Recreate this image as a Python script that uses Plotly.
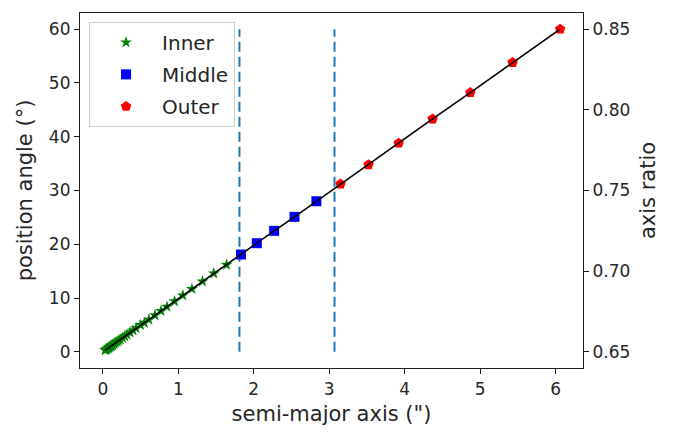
import plotly.graph_objects as go

# semi-major axis (") and position angle (deg) per region
inner_sma = [0.03, 0.04, 0.05, 0.06, 0.07, 0.08, 0.09, 0.10, 0.11, 0.12, 0.13, 0.15,
             0.17, 0.19, 0.21, 0.23, 0.26, 0.29, 0.32, 0.36, 0.40, 0.44, 0.50,
             0.55, 0.61, 0.69, 0.77, 0.85, 0.95, 1.06, 1.18, 1.32, 1.47, 1.64]
inner_pa = [0.3, 0.4, 0.5, 0.6, 0.7, 0.8, 0.9, 1.0, 1.1, 1.2, 1.3, 1.5,
            1.7, 1.9, 2.1, 2.3, 2.6, 2.9, 3.2, 3.6, 4.0, 4.4, 5.0,
            5.4, 6.0, 6.8, 7.6, 8.4, 9.4, 10.5, 11.7, 13.1, 14.6, 16.2]
middle_sma = [1.83, 2.04, 2.27, 2.54, 2.83]
middle_pa = [18.1, 20.2, 22.5, 25.1, 28.0]
outer_sma = [3.15, 3.52, 3.92, 4.37, 4.87, 5.43, 6.06]
outer_pa = [31.2, 34.8, 38.8, 43.3, 48.2, 53.8, 60.0]

boundaries = [1.81, 3.07]
boundary_pa = [0, 60]

y2_ticks = [0.65, 0.70, 0.75, 0.80, 0.85]

font = "DejaVu Sans"
ink = "#262626"

fig = go.Figure()

for b in boundaries:
    fig.add_trace(go.Scatter(x=[b, b], y=boundary_pa, mode="lines",
                             line=dict(color="#1f77b4", width=2, dash="10px,5px"),
                             showlegend=False, hoverinfo="skip"))

all_sma = inner_sma + middle_sma + outer_sma
all_pa = inner_pa + middle_pa + outer_pa

fig.add_trace(go.Scatter(x=inner_sma, y=inner_pa, mode="markers", name="Inner",
                         legendgroup="a",
                         marker=dict(symbol="star", size=9, color="#008000",
                                     line=dict(width=0))))
fig.add_trace(go.Scatter(x=middle_sma, y=middle_pa, mode="markers", name="Middle",
                         legendgroup="b",
                         marker=dict(symbol="square", size=10, color="#0000ff",
                                     line=dict(width=0))))
fig.add_trace(go.Scatter(x=outer_sma, y=outer_pa, mode="markers", name="Outer",
                         legendgroup="c",
                         marker=dict(symbol="pentagon", size=11, color="#ff0000",
                                     line=dict(width=0))))
fig.add_trace(go.Scatter(x=all_sma, y=all_pa, mode="lines",
                         line=dict(color="black", width=1.6),
                         showlegend=False, hoverinfo="skip"))
fig.add_trace(go.Scatter(x=[None], y=[None], yaxis="y2", showlegend=False,
                         hoverinfo="skip"))

axis_common = dict(
    showgrid=False, zeroline=False, showline=True, linecolor="#1a1a1a",
    linewidth=1.2, ticks="outside", ticklen=5, tickwidth=1.2, tickcolor="#1a1a1a",
    tickfont=dict(family=font, size=17, color=ink),
)

fig.update_layout(
    width=676, height=433,
    margin=dict(l=80, r=93, t=12, b=60),
    paper_bgcolor="white", plot_bgcolor="white",
    xaxis=dict(range=[-0.303, 6.363], tickvals=[0, 1, 2, 3, 4, 5, 6],
               mirror=True,
               title=dict(text="semi-major axis (\")",
                          font=dict(family=font, size=21, color=ink), standoff=8),
               **axis_common),
    yaxis=dict(range=[-3, 63], tickvals=[0, 10, 20, 30, 40, 50, 60],
               mirror=True,
               title=dict(text="position angle (°)",
                          font=dict(family=font, size=21, color=ink), standoff=10),
               **axis_common),
    yaxis2=dict(range=[0.64, 0.86], tickvals=y2_ticks,
                ticktext=[f"{v:.2f}" for v in y2_ticks],
                overlaying="y", side="right", anchor="x",
                title=dict(text="axis ratio",
                           font=dict(family=font, size=21, color=ink), standoff=10),
                **axis_common),
    legend=dict(x=0.018, y=0.975, xanchor="left", yanchor="top",
                bgcolor="rgba(255,255,255,0.8)", bordercolor="#cccccc", borderwidth=1,
                font=dict(family=font, size=20, color=ink),
                traceorder="grouped", tracegroupgap=3, itemwidth=62),
    showlegend=True,
)

fig.write_html("out.html")
